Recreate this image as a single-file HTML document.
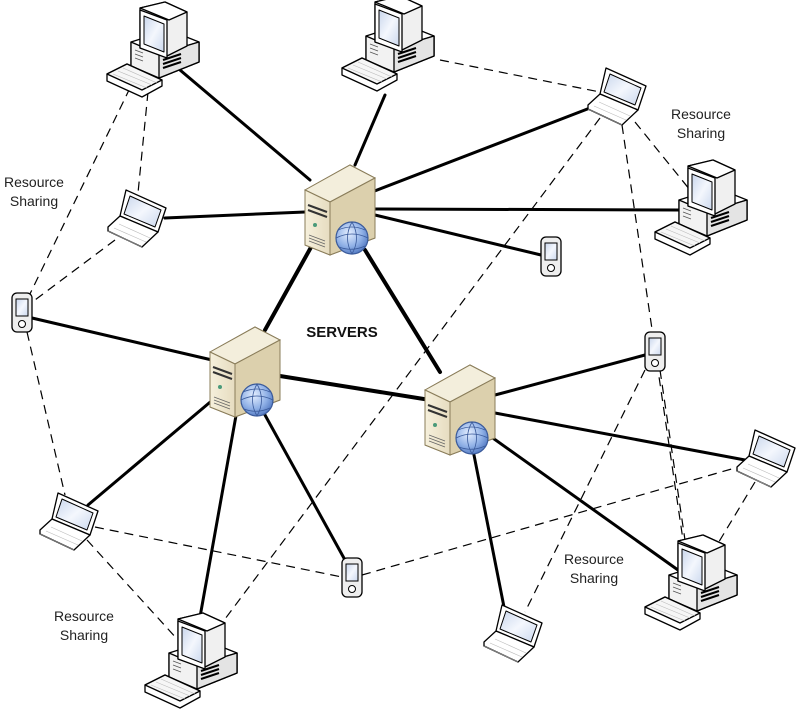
<!DOCTYPE html>
<html><head><meta charset="utf-8"><style>
html,body{margin:0;padding:0;background:#fff;}
svg{display:block;}
text{font-family:"Liberation Sans",Arial,sans-serif;}
</style></head><body>
<svg width="798" height="712" viewBox="0 0 798 712" xmlns="http://www.w3.org/2000/svg">
<defs>
<linearGradient id="scr" x1="0" y1="0" x2="1" y2="1"><stop offset="0" stop-color="#c9d6ec"/><stop offset="0.5" stop-color="#f4f7fd"/><stop offset="1" stop-color="#cbd8ee"/></linearGradient>
<linearGradient id="srvF" x1="0" y1="0" x2="1" y2="0"><stop offset="0" stop-color="#f6f0dc"/><stop offset="1" stop-color="#e6dcc0"/></linearGradient>
<radialGradient id="glb" cx="0.4" cy="0.35" r="0.7"><stop offset="0" stop-color="#e4eeff"/><stop offset="0.6" stop-color="#8fb0e6"/><stop offset="1" stop-color="#4f76c0"/></radialGradient>
<g id="server">
 <polygon points="0,30 45,5 70,18 70,78 25,95 0,85" fill="#e8dfc4" stroke="#8a7d5a" stroke-width="1"/>
 <polygon points="0,30 45,5 70,18 25,42" fill="#f3eedc" stroke="#8a7d5a" stroke-width="1"/>
 <polygon points="0,30 25,42 25,95 0,85" fill="url(#srvF)" stroke="#8a7d5a" stroke-width="1"/>
 <polygon points="25,42 70,18 70,78 25,95" fill="#dcd0ad" stroke="#8a7d5a" stroke-width="1"/>
 <path d="M3,45 L22,52 M3,50 L22,57" stroke="#333" stroke-width="2"/>
 <circle cx="10" cy="65" r="2" fill="#4a9a7a"/>
 <path d="M4,75 L20,81 M4,78 L20,84 M4,81 L20,87" stroke="#666" stroke-width="0.8"/>
 <circle cx="47" cy="78" r="16" fill="url(#glb)" stroke="#3a5a9a" stroke-width="1.2"/>
 <path d="M31,78 Q47,70 63,78 M33,70 Q47,64 60,70 M34,87 Q47,92 60,86 M47,62 Q38,78 47,94 M47,62 Q56,78 47,94" fill="none" stroke="#3a5a9a" stroke-width="0.8"/>
</g>
<g id="desk" stroke="#000" stroke-width="1.3" stroke-linejoin="round">
 <polygon points="24,40 62,28 92,40 92,60 52,76 24,64" fill="#fff"/>
 <polygon points="24,40 52,52 92,40 92,60 52,76 24,64" fill="#f2f2f2"/>
 <polygon points="52,52 92,40 92,60 52,76" fill="#e4e4e4"/>
 <path d="M56,58 L74,52 M56,62 L74,56 M56,66 L74,60" stroke="#000" stroke-width="2"/>
 <path d="M28,48 L36,51 M28,52 L36,55 M28,56 L36,59" stroke="#555" stroke-width="0.8"/>
 <polygon points="33,6 58,0 80,10 80,44 60,54 33,46" fill="#f0f0f0"/>
 <polygon points="33,6 58,0 80,10 62,18" fill="#fff"/>
 <polygon points="33,8 60,18 60,56 33,46" fill="#fff"/>
 <polygon points="37,14 57,22 57,50 37,42" fill="url(#scr)" stroke-width="1"/>
 <polygon points="0,72 20,62 55,78 55,84 35,95 0,79" fill="#fff"/>
 <polygon points="0,72 20,62 55,78 35,88" fill="#f6f6f6"/>
 <path d="M6,72 L40,86 M11,69 L45,83 M16,66 L50,81" stroke="#bbb" stroke-width="0.6"/>
</g>
<g id="lap" stroke="#000" stroke-width="1.3" stroke-linejoin="round">
 <polygon points="18,0 58,18 50,42 12,26" fill="#fff"/>
 <polygon points="22,6 53,20 47,37 16,24" fill="url(#scr)" stroke-width="1"/>
 <polygon points="12,26 50,42 34,57 0,41 0,37" fill="#fff"/>
 <path d="M0,41 L34,57 M6,38 L38,52 M11,34 L42,48" stroke="#bbb" stroke-width="0.6"/>
</g>
<g id="phone" stroke="#000" stroke-width="1.3">
 <rect x="0" y="0" width="20" height="39" rx="5" fill="#eee"/>
 <rect x="4" y="6" width="12" height="17" fill="url(#scr)" stroke-width="1"/>
 <circle cx="10" cy="31" r="3.5" fill="#fff" stroke-width="1"/>
</g>
</defs>

<g stroke="#000" stroke-width="1.2" stroke-dasharray="9,6" fill="none">
 <line x1="130" y1="88" x2="28" y2="298"/>
 <line x1="148" y1="92" x2="138" y2="193"/>
 <line x1="115" y1="240" x2="35" y2="300"/>
 <line x1="440" y1="60" x2="600" y2="92"/>
 <line x1="635" y1="122" x2="690" y2="190"/>
 <line x1="622" y1="125" x2="683" y2="540"/>
 <line x1="600" y1="118" x2="222" y2="623"/>
 <line x1="27" y1="332" x2="65" y2="495"/>
 <line x1="87" y1="540" x2="178" y2="640"/>
 <line x1="95" y1="527" x2="342" y2="577"/>
 <line x1="362" y1="575" x2="742" y2="466"/>
 <line x1="645" y1="370" x2="525" y2="612"/>
 <line x1="660" y1="370" x2="685" y2="540"/>
 <line x1="755" y1="482" x2="717" y2="545"/>
</g>

<g stroke="#000" stroke-width="3" fill="none" stroke-linecap="round">
 <line x1="180" y1="70" x2="310" y2="180"/>
 <line x1="385" y1="95" x2="355" y2="165"/>
 <line x1="590" y1="108" x2="372" y2="192"/>
 <line x1="375" y1="209" x2="680" y2="210"/>
 <line x1="165" y1="218" x2="305" y2="212"/>
 <line x1="375" y1="215" x2="541" y2="255"/>
 <line x1="315" y1="240" x2="265" y2="330" stroke-width="4"/>
 <line x1="365" y1="250" x2="440" y2="372" stroke-width="4"/>
 <line x1="32" y1="318" x2="212" y2="360"/>
 <line x1="280" y1="376" x2="430" y2="400" stroke-width="4"/>
 <line x1="88" y1="505" x2="215" y2="398"/>
 <line x1="200" y1="617" x2="237" y2="410"/>
 <line x1="265" y1="415" x2="345" y2="560"/>
 <line x1="645" y1="355" x2="495" y2="395"/>
 <line x1="745" y1="460" x2="495" y2="413"/>
 <line x1="685" y1="575" x2="490" y2="436"/>
 <line x1="505" y1="612" x2="473" y2="450"/>
</g>

<use href="#server" x="305" y="160"/>
<use href="#server" x="210" y="322"/>
<use href="#server" x="425" y="360"/>
<use href="#desk" x="107" y="2"/>
<use href="#desk" x="342" y="-4"/>
<use href="#desk" x="655" y="160"/>
<use href="#desk" x="645" y="535"/>
<use href="#desk" x="145" y="613"/>
<use href="#lap" x="588" y="68"/>
<use href="#lap" x="108" y="190"/>
<use href="#lap" x="40" y="493"/>
<use href="#lap" x="737" y="430"/>
<use href="#lap" x="484" y="605"/>
<use href="#phone" x="541" y="237"/>
<use href="#phone" x="12" y="293"/>
<use href="#phone" x="645" y="332"/>
<use href="#phone" x="342" y="558"/>

<g font-size="14" fill="#222" text-anchor="middle">
 <text x="34" y="187">Resource</text><text x="34" y="206">Sharing</text>
 <text x="701" y="119">Resource</text><text x="701" y="138">Sharing</text>
 <text x="594" y="564">Resource</text><text x="594" y="583">Sharing</text>
 <text x="84" y="621">Resource</text><text x="84" y="640">Sharing</text>
</g>
<text x="342" y="337" font-size="15" font-weight="bold" text-anchor="middle" fill="#111">SERVERS</text>
</svg>
</body></html>
